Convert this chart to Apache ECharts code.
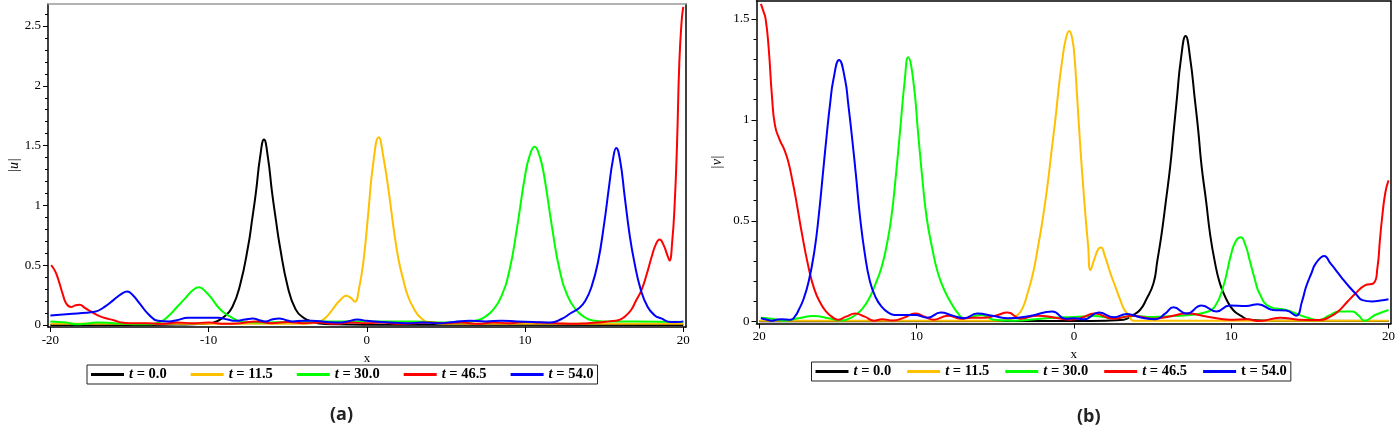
<!DOCTYPE html>
<html>
<head>
<meta charset="utf-8">
<script src="https://cdn.jsdelivr.net/npm/echarts@6/dist/echarts.min.js"></script>
<style>html,body{margin:0;padding:0;background:#fff}#c{width:1398px;height:426px}</style>
</head>
<body>
<div id="c"></div>
<script>
// ---------- tick labels ----------
const xTickValues = [-20, -10, 0, 10, 20];
const xTickLabelsA = ['-20', '-10', '0', '10', '20'];
const xTickLabelsB = ['20', '10', '0', '10', '20'];
const yTickValuesA = [0, 0.5, 1, 1.5, 2, 2.5];
const yTickLabelsA = ['0', '0.5', '1', '1.5', '2', '2.5'];
const yTickValuesB = [0, 0.5, 1, 1.5];
const yTickLabelsB = ['0', '0.5', '1', '1.5'];
const seriesNames = ['t = 0.0', 't = 11.5', 't = 30.0', 't = 46.5', 't = 54.0'];
const seriesColors = ['#000000', '#FFC000', '#00FF00', '#FF0000', '#0000FF'];

// ---------- panel (a): |u| ----------
const uT0 = [[-20,0.0],[-15,0.0],[-12,0.003],[-11,0.006],[-10,0.012],[-9.5,0.03],[-9,0.07],[-8.5,0.15],[-8,0.34],[-7.5,0.66],[-7.25,0.88],[-7,1.12],[-6.75,1.4],[-6.5,1.55],[-6.25,1.4],[-6,1.12],[-5.75,0.88],[-5.5,0.66],[-5,0.32],[-4.5,0.13],[-4,0.06],[-3.5,0.03],[-3,0.012],[-2,0.005],[0,0.002],[20,0.0]];
const uT11 = [[-20,0.01],[-10,0.01],[-4,0.01],[-3.2,0.02],[-2.8,0.04],[-2.4,0.09],[-2,0.16],[-1.6,0.22],[-1.3,0.245],[-1.0,0.225],[-0.75,0.195],[-0.5,0.3],[-0.2,0.55],[0.1,0.95],[0.4,1.35],[0.75,1.57],[1.05,1.4],[1.4,1.1],[1.7,0.8],[2.0,0.55],[2.3,0.38],[2.6,0.24],[3.0,0.13],[3.4,0.06],[4.0,0.02],[5,0.01],[20,0.01]];
const uT30 = [[-20,0.03],[-19,0.02],[-18.3,0.005],[-17.5,0.015],[-17,0.02],[-16,0.015],[-15,0.008],[-14,0.005],[-13,0.03],[-12.5,0.08],[-12,0.15],[-11.5,0.22],[-11,0.29],[-10.6,0.315],[-10.2,0.28],[-9.8,0.22],[-9.4,0.15],[-9,0.1],[-8.5,0.06],[-8,0.03],[-7,0.02],[-5,0.025],[-3,0.03],[0,0.03],[3,0.03],[5,0.02],[6,0.02],[7,0.04],[7.5,0.07],[8,0.13],[8.5,0.24],[9,0.45],[9.5,0.82],[10,1.25],[10.3,1.42],[10.6,1.49],[10.9,1.42],[11.2,1.25],[11.7,0.82],[12.2,0.45],[12.7,0.24],[13.2,0.13],[13.7,0.07],[14.2,0.04],[15,0.03],[17,0.03],[20,0.025]];
const uT46 = [[-19.95,0.5],[-19.7,0.45],[-19.5,0.38],[-19.2,0.25],[-19,0.18],[-18.7,0.15],[-18.4,0.165],[-18.15,0.17],[-17.8,0.14],[-17.4,0.11],[-17,0.08],[-16.6,0.06],[-16,0.04],[-15.5,0.02],[-15,0.015],[-14,0.015],[-13,0.01],[-12,0.02],[-11,0.015],[-10,0.02],[-9,0.01],[-8,0.015],[-7,0.03],[-6,0.015],[-5,0.025],[-4,0.015],[-3,0.02],[-2,0.01],[-1,0.02],[0,0.015],[1,0.02],[2,0.01],[3,0.015],[4,0.02],[5,0.015],[6,0.02],[7,0.01],[8,0.02],[9,0.015],[10,0.025],[11,0.02],[12,0.015],[13,0.01],[14,0.015],[14.6,0.02],[15.3,0.03],[15.9,0.04],[16.3,0.07],[16.7,0.125],[17,0.2],[17.35,0.29],[17.7,0.43],[18,0.57],[18.25,0.67],[18.5,0.715],[18.75,0.67],[19,0.58],[19.13,0.54],[19.3,0.7],[19.45,1.0],[19.6,1.5],[19.75,2.2],[19.9,2.55],[20,2.66]];
const uT54 = [[-20,0.08],[-19,0.09],[-18,0.1],[-17.2,0.11],[-16.6,0.15],[-16,0.21],[-15.5,0.26],[-15.15,0.28],[-14.8,0.25],[-14.3,0.17],[-13.8,0.09],[-13.2,0.035],[-12.5,0.03],[-12,0.04],[-11.3,0.06],[-10,0.06],[-9.4,0.06],[-8.8,0.045],[-8.3,0.035],[-7.7,0.045],[-7.2,0.055],[-6.8,0.04],[-6.4,0.03],[-6,0.045],[-5.55,0.055],[-5.1,0.04],[-4.7,0.03],[-4,0.035],[-3.5,0.035],[-2.5,0.025],[-1.75,0.02],[-1.2,0.03],[-0.6,0.045],[0,0.035],[0.5,0.03],[1.5,0.02],[2.5,0.015],[3.5,0.02],[4.5,0.015],[5.5,0.025],[6.5,0.035],[7.5,0.03],[8.5,0.035],[9.5,0.03],[10.5,0.025],[11.6,0.02],[12.3,0.05],[12.9,0.1],[13.4,0.14],[13.8,0.2],[14.2,0.32],[14.6,0.52],[15,0.85],[15.3,1.15],[15.55,1.38],[15.76,1.48],[16,1.38],[16.3,1.07],[16.6,0.76],[16.9,0.53],[17.3,0.3],[17.75,0.15],[18.2,0.08],[18.6,0.055],[19.2,0.025],[19.6,0.025],[20,0.03]];

// ---------- panel (b): |v| ----------
const vT0 = [[-20,0.002],[0,0.003],[2,0.005],[3.16,0.01],[3.7,0.03],[4.2,0.058],[4.6,0.11],[5.06,0.19],[5.3,0.3],[5.58,0.438],[5.85,0.6],[6.12,0.768],[6.35,0.95],[6.54,1.1],[6.8,1.3],[7.1,1.416],[7.4,1.3],[7.69,1.1],[7.9,0.95],[8.12,0.768],[8.4,0.6],[8.65,0.438],[8.95,0.3],[9.28,0.19],[9.7,0.11],[10.12,0.058],[10.6,0.03],[11.17,0.01],[13,0.005],[20,0.003]];
const vT11 = [[-20,0.005],[-10,0.005],[-5,0.005],[-4.2,0.01],[-3.59,0.033],[-3.25,0.07],[-2.95,0.14],[-2.6,0.24],[-2.32,0.355],[-2.0,0.5],[-1.69,0.67],[-1.4,0.86],[-1.16,1.016],[-0.95,1.17],[-0.74,1.297],[-0.52,1.4],[-0.3,1.44],[-0.1,1.4],[0.05,1.3],[0.2,1.12],[0.42,0.85],[0.6,0.66],[0.74,0.52],[0.9,0.38],[1.05,0.256],[1.3,0.31],[1.55,0.36],[1.72,0.368],[1.95,0.33],[2.32,0.24],[2.65,0.17],[2.95,0.107],[3.2,0.06],[3.48,0.033],[3.8,0.005],[20,0.005]];
const vT30 = [[-19.9,0.02],[-19.2,0.015],[-18.4,0.005],[-17.5,0.017],[-16.55,0.028],[-15.6,0.017],[-14.76,0.006],[-14.3,0.015],[-13.9,0.033],[-13.5,0.06],[-13.07,0.107],[-12.65,0.18],[-12.23,0.27],[-11.9,0.38],[-11.6,0.52],[-11.3,0.74],[-11.07,0.93],[-10.75,1.2],[-10.54,1.31],[-10.22,1.2],[-9.9,0.93],[-9.65,0.72],[-9.37,0.52],[-9.0,0.36],[-8.64,0.24],[-8.2,0.15],[-7.8,0.091],[-7.4,0.045],[-7.0,0.017],[-5.9,0.033],[-5.1,0.01],[-3.8,0.005],[-2.8,0.01],[-1.3,0.02],[0,0.023],[1.26,0.028],[2.5,0.017],[3.8,0.028],[5.06,0.023],[6.33,0.028],[7.38,0.033],[8.43,0.048],[8.96,0.075],[9.49,0.173],[10.01,0.339],[10.3,0.4],[10.6,0.418],[10.9,0.38],[11.17,0.306],[11.5,0.21],[11.8,0.14],[12.43,0.075],[13.5,0.058],[14.76,0.022],[15.6,0.008],[16.2,0.03],[16.86,0.05],[17.7,0.05],[18.1,0.03],[18.48,0.005],[19.15,0.033],[20,0.058]];
const vT46 = [[-19.9,1.575],[-19.75,1.54],[-19.6,1.5],[-19.4,1.35],[-19.2,1.12],[-19.0,0.97],[-18.7,0.9],[-18.4,0.85],[-18.15,0.79],[-17.9,0.7],[-17.7,0.62],[-17.3,0.44],[-16.9,0.28],[-16.5,0.16],[-16.1,0.09],[-15.8,0.055],[-15.4,0.025],[-15.0,0.01],[-14.5,0.025],[-13.9,0.04],[-13.3,0.025],[-12.7,0.005],[-12.2,0.012],[-11.5,0.006],[-10.8,0.02],[-10.1,0.04],[-9.5,0.025],[-8.9,0.01],[-8.0,0.03],[-7.2,0.015],[-6.5,0.02],[-5.7,0.02],[-5,0.03],[-4.2,0.045],[-3.4,0.015],[-2.3,0.03],[-1.2,0.02],[-0.2,0.01],[0.5,0.02],[1.3,0.04],[2.5,0.015],[3.8,0.03],[5.0,0.015],[6,0.025],[7.2,0.04],[8.5,0.025],[9.9,0.01],[11,0.012],[11.8,0.003],[13.1,0.02],[14.3,0.01],[15.6,0.008],[16.3,0.025],[16.9,0.058],[17.4,0.1],[17.9,0.14],[18.5,0.18],[19.05,0.19],[19.3,0.27],[19.45,0.4],[19.6,0.52],[19.8,0.64],[20,0.7]];
const vT54 = [[-19.9,0.017],[-19.5,0.01],[-19.2,0.005],[-18.9,0.01],[-18.6,0.012],[-18,0.01],[-17.7,0.03],[-17.5,0.058],[-17.2,0.11],[-16.86,0.2],[-16.5,0.35],[-16.23,0.52],[-15.95,0.74],[-15.71,0.93],[-15.5,1.08],[-15.29,1.2],[-14.93,1.297],[-14.55,1.2],[-14.35,1.08],[-14.13,0.93],[-13.85,0.72],[-13.6,0.52],[-13.3,0.34],[-12.97,0.2],[-12.6,0.12],[-12.23,0.075],[-11.8,0.045],[-11.4,0.033],[-10.7,0.033],[-10.1,0.033],[-9.3,0.02],[-8.47,0.045],[-7.7,0.03],[-7.0,0.017],[-6.15,0.04],[-5.1,0.028],[-4.2,0.017],[-2.8,0.028],[-1.37,0.05],[-0.53,0.015],[0,0.017],[0.63,0.012],[1.58,0.045],[2.53,0.022],[3.37,0.038],[4.2,0.022],[5.2,0.012],[5.8,0.04],[6.33,0.071],[7.17,0.04],[8.12,0.08],[9.07,0.051],[9.9,0.08],[10.96,0.078],[11.7,0.087],[12.65,0.058],[13.5,0.055],[14.13,0.03],[14.5,0.1],[14.76,0.173],[15.1,0.24],[15.39,0.29],[15.92,0.326],[16.3,0.29],[16.65,0.256],[17.1,0.21],[17.5,0.173],[17.9,0.14],[18.34,0.107],[18.97,0.1],[19.5,0.105],[20,0.111]];

const panelA = [uT0, uT11, uT30, uT46, uT54];
const panelB = [vT0, vT11, vT30, vT46, vT54];

// ---------- helpers ----------
const SERIF = 'Liberation Serif';
function minorTicks(maxV, step, majors) {
  const out = [];
  for (let i = 1; i * step <= maxV + 1e-9; i++) {
    const v = Math.round(i * step * 10) / 10;
    if (!majors.includes(v)) out.push(v);
  }
  return out;
}
function labelFor(values, labels) {
  return function (v) { const i = values.findIndex(t => Math.abs(t - v) < 1e-6); return i >= 0 ? labels[i] : ''; };
}
function bottomX(min, max, gridIndex, labels) {
  return {
    type: 'value', gridIndex, position: 'bottom', min, max,
    name: 'x', nameLocation: 'middle', nameGap: 23,
    nameTextStyle: { fontFamily: SERIF, fontSize: 13, color: '#000' },
    axisLine: { show: true, onZero: false, lineStyle: { color: '#000', width: 1.5 } },
    axisTick: { show: true, inside: false, length: 5, customValues: xTickValues, lineStyle: { color: '#000' } },
    axisLabel: { show: true, margin: 7, customValues: xTickValues, formatter: labelFor(xTickValues, labels), fontFamily: SERIF, fontSize: 13, color: '#000' },
    splitLine: { show: false }
  };
}
function topX(min, max, gridIndex, color) {
  return {
    type: 'value', gridIndex, position: 'top', min, max,
    axisLine: { show: true, onZero: false, lineStyle: { color, width: 1.5 } },
    axisTick: { show: false }, axisLabel: { show: false }, splitLine: { show: false }
  };
}
function leftY(min, max, gridIndex, vals, labels, name, gap) {
  return {
    type: 'value', gridIndex, position: 'left', min, max,
    name, nameLocation: 'middle', nameRotate: 90, nameGap: gap,
    nameTextStyle: { fontFamily: SERIF, fontSize: 14, fontStyle: 'italic', color: '#000' },
    axisLine: { show: true, onZero: false, lineStyle: { color: '#000', width: 1.5 } },
    axisTick: { show: true, length: 5, customValues: vals, lineStyle: { color: '#000' } },
    axisLabel: { show: true, margin: 7, customValues: vals, formatter: labelFor(vals, labels), fontFamily: SERIF, fontSize: 13, color: '#000' },
    splitLine: { show: false }
  };
}
function rightY(min, max, gridIndex) {
  return {
    type: 'value', gridIndex, position: 'right', min, max,
    axisLine: { show: true, onZero: false, lineStyle: { color: '#000', width: 1.5 } },
    axisTick: { show: false }, axisLabel: { show: false }, splitLine: { show: false }
  };
}
function minorY(min, max, gridIndex, vals) {
  return {
    type: 'value', gridIndex, position: 'left', min, max,
    axisLine: { show: false, onZero: false },
    axisTick: { show: true, length: 3, customValues: vals, lineStyle: { color: '#000' } },
    axisLabel: { show: false }, splitLine: { show: false }
  };
}
function legendFor(left, top, gap, uprightLast) {
  return {
    left, top, orient: 'horizontal', itemGap: gap,
    icon: 'rect', itemWidth: 33, itemHeight: 3,
    padding: [2, 4, 2, 4], borderColor: '#222', borderWidth: 1, backgroundColor: '#fff',
    data: seriesNames, selectedMode: false,
    formatter: function (name) {
      const rest = name.slice(1);
      const upright = uprightLast && name === seriesNames[seriesNames.length - 1];
      return (upright ? '{u|t}' : '{i|t}') + '{b|' + rest + '}';
    },
    textStyle: {
      fontFamily: SERIF, fontSize: 14.5, fontWeight: 'bold', color: '#000',
      rich: {
        i: { fontFamily: SERIF, fontSize: 14.5, fontWeight: 'bold', fontStyle: 'italic', color: '#000' },
        u: { fontFamily: SERIF, fontSize: 14.5, fontWeight: 'bold', color: '#000' },
        b: { fontFamily: SERIF, fontSize: 14.5, fontWeight: 'bold', color: '#000' }
      }
    }
  };
}

const axA = { xmin: -20.15, xmax: 20.17, ymin: -0.017, ymax: 2.684 };
const axB = { xmin: -20.18, xmax: 20.15, ymin: -0.009, ymax: 1.589 };

const series = [];
panelA.forEach((d, i) => series.push({
  name: seriesNames[i], type: 'line', xAxisIndex: 0, yAxisIndex: 0, data: d,
  showSymbol: false, symbol: 'none', smooth: 0.5, clip: true,
  lineStyle: { color: seriesColors[i], width: 2 }, itemStyle: { color: seriesColors[i] }
}));
panelB.forEach((d, i) => series.push({
  name: seriesNames[i], type: 'line', xAxisIndex: 2, yAxisIndex: 3, data: d,
  showSymbol: false, symbol: 'none', smooth: 0.5, clip: true,
  lineStyle: { color: seriesColors[i], width: 2 }, itemStyle: { color: seriesColors[i] }
}));

const chart = echarts.init(document.getElementById('c'), null, { renderer: 'canvas' });
chart.setOption({
  animation: false,
  backgroundColor: '#ffffff',
  grid: [
    { left: 48, top: 4, width: 638, height: 323, containLabel: false },
    { left: 756.5, top: 1, width: 637.5, height: 322.5, containLabel: false }
  ],
  xAxis: [
    bottomX(axA.xmin, axA.xmax, 0, xTickLabelsA),
    topX(axA.xmin, axA.xmax, 0, '#9a9a9a'),
    bottomX(axB.xmin, axB.xmax, 1, xTickLabelsB),
    topX(axB.xmin, axB.xmax, 1, '#000')
  ],
  yAxis: [
    leftY(axA.ymin, axA.ymax, 0, yTickValuesA, yTickLabelsA, '|u|', 27),
    rightY(axA.ymin, axA.ymax, 0),
    minorY(axA.ymin, axA.ymax, 0, minorTicks(2.6, 0.1, yTickValuesA)),
    leftY(axB.ymin, axB.ymax, 1, yTickValuesB, yTickLabelsB, '|v|', 32),
    rightY(axB.ymin, axB.ymax, 1),
    minorY(axB.ymin, axB.ymax, 1, minorTicks(1.5, 0.1, yTickValuesB))
  ],
  legend: [legendFor(87, 365, 24, false), legendFor(811.5, 362, 16, true)],
  graphic: [
    { type: 'text', left: 330, top: 406, style: { text: '(a)', fontFamily: 'Open Sans', fontWeight: 'bold', fontSize: 18, fill: '#222' } },
    { type: 'text', left: 1077, top: 408, style: { text: '(b)', fontFamily: 'Open Sans', fontWeight: 'bold', fontSize: 18, fill: '#222' } }
  ],
  series
});
</script>
</body>
</html>
